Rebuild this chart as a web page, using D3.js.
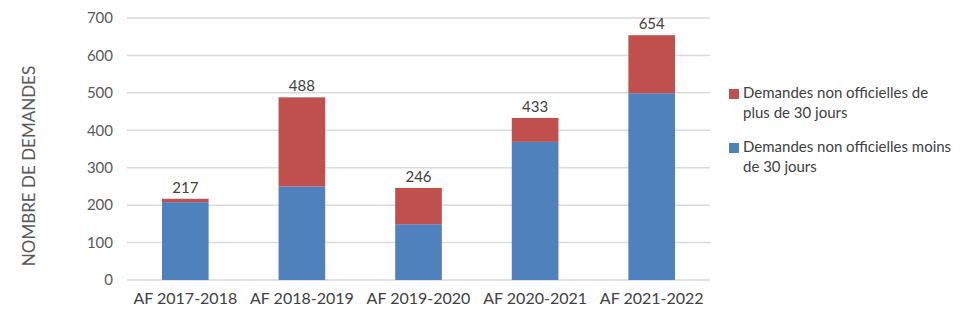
<!DOCTYPE html>
<html>
<head>
<meta charset="utf-8">
<script src="https://cdn.jsdelivr.net/npm/d3@7"></script>
<style>
  body { margin: 0; background: #fff; }
  svg text { font-family: Lato, "Open Sans", sans-serif; }
</style>
</head>
<body>
<svg id="chart" width="969" height="328"></svg>
<script>

// Chart data
var categories = ["AF 2017-2018", "AF 2018-2019", "AF 2019-2020", "AF 2020-2021", "AF 2021-2022"];
var moins30 = [208, 250, 149, 369, 499];
var plus30 = [9, 238, 97, 64, 155];
var totals = [217, 488, 246, 433, 654];
var yTicks = [0, 100, 200, 300, 400, 500, 600, 700];
var legendLabels = [
    ["Demandes non officielles de", "plus de 30 jours"],
    ["Demandes non officielles moins", "de 30 jours"]
];

var blue = "#4f81bd", red = "#c0504d";

var svg = d3.select("#chart");

// Plot area
var margin = {top: 18, left: 127, right: 259, bottom: 48};
var width = 969 - margin.left - margin.right,
    height = 328 - margin.top - margin.bottom;

var g = svg.append("g")
    .attr("transform", "translate(" + margin.left + "," + margin.top + ")");

var x = d3.scaleBand().domain(categories).range([0, width])
    .paddingInner(0.6).paddingOuter(0.3);
var y = d3.scaleLinear().domain([0, 700]).range([height, 0]);

// Gridlines
g.selectAll(".grid")
    .data(yTicks)
    .enter().append("line")
    .attr("x1", 0)
    .attr("x2", width)
    .attr("y1", function(d) { return y(d); })
    .attr("y2", function(d) { return y(d); })
    .attr("stroke", "#d9d9d9")
    .attr("stroke-width", 1.5);

// Y axis labels
var yAxis = g.append("g")
    .call(d3.axisLeft(y).tickValues(yTicks).tickSize(0).tickPadding(14));
yAxis.select(".domain").remove();
yAxis.selectAll("text")
    .attr("fill", "#595959")
    .style("font-size", "15px");

// X axis labels
var xAxis = g.append("g")
    .attr("transform", "translate(0," + height + ")")
    .call(d3.axisBottom(x).tickSize(0).tickPadding(13));
xAxis.select(".domain").remove();
xAxis.selectAll("text")
    .attr("fill", "#404040")
    .style("font-size", "16px");

// Stacked bars
g.selectAll(".bar-blue")
    .data(categories)
    .enter().append("rect")
    .attr("x", function(d) { return x(d); })
    .attr("width", x.bandwidth())
    .attr("y", function(d, i) { return y(moins30[i]); })
    .attr("height", function(d, i) { return y(0) - y(moins30[i]); })
    .attr("fill", blue);

g.selectAll(".bar-red")
    .data(categories)
    .enter().append("rect")
    .attr("x", function(d) { return x(d); })
    .attr("width", x.bandwidth())
    .attr("y", function(d, i) { return y(moins30[i] + plus30[i]); })
    .attr("height", function(d, i) { return y(moins30[i]) - y(moins30[i] + plus30[i]); })
    .attr("fill", red);

// Total labels
g.selectAll(".total")
    .data(categories)
    .enter().append("text")
    .attr("x", function(d) { return x(d) + x.bandwidth() / 2; })
    .attr("y", function(d, i) { return y(totals[i]) - 6; })
    .attr("text-anchor", "middle")
    .attr("fill", "#404040")
    .style("font-size", "15px")
    .text(function(d, i) { return totals[i]; });

// Y axis title
svg.append("text")
    .attr("transform", "translate(35,166) rotate(-90)")
    .attr("text-anchor", "middle")
    .attr("fill", "#595959")
    .style("font-size", "17px")
    .text("NOMBRE DE DEMANDES");

// Legend
var legend = svg.append("g").attr("transform", "translate(729,86)");
[red, blue].forEach(function(c, i) {
    var item = legend.append("g").attr("transform", "translate(0," + (i * 54) + ")");
    item.append("rect")
        .attr("width", 10).attr("height", 10)
        .attr("y", 3)
        .attr("fill", c);
    legendLabels[i].forEach(function(line, j) {
        item.append("text")
            .attr("x", 14)
            .attr("y", 12 + j * 20)
            .attr("fill", "#404040")
            .style("font-size", "15px")
            .text(line);
    });
});

</script>
</body>
</html>
